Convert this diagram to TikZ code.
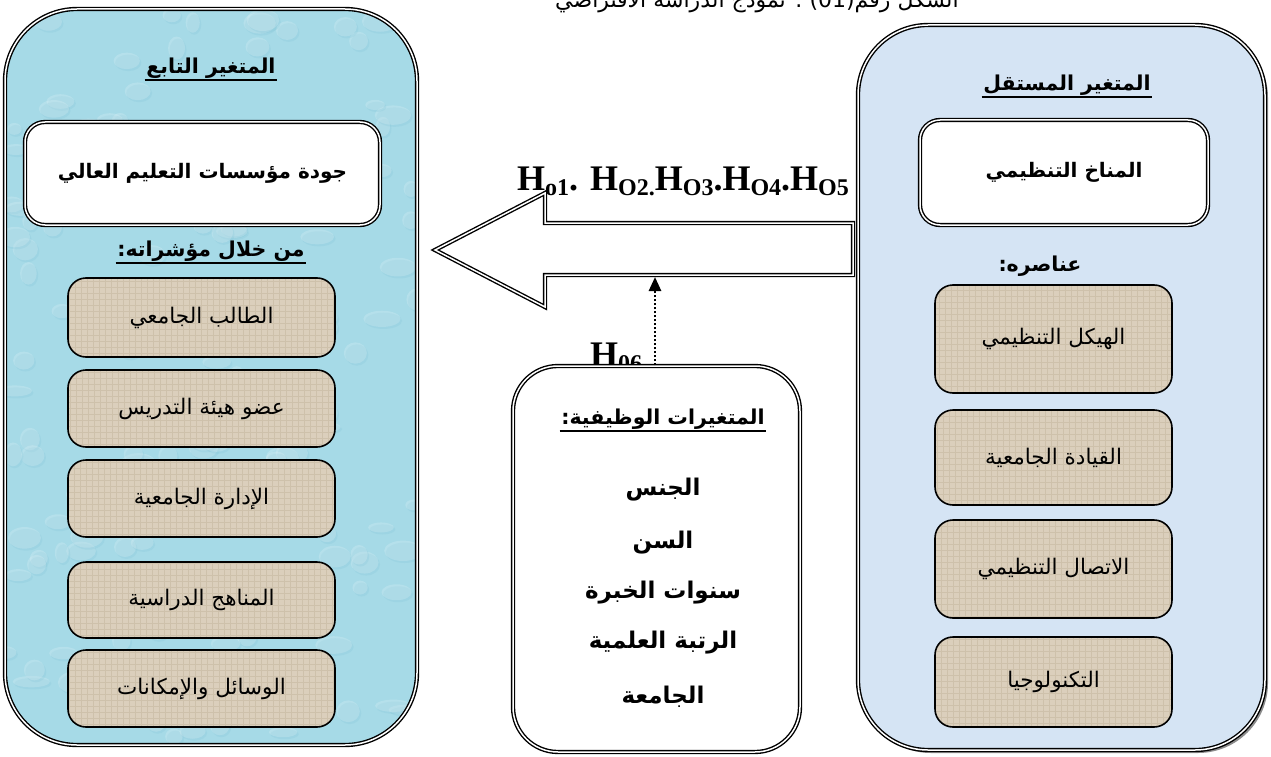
\documentclass[tikz,border=0pt]{standalone}
\usepackage{fontspec}
\setmainfont{Liberation Serif}
\newfontfamily\arfont[Script=Arabic]{DejaVu Sans}
\TeXXeTstate=1
\usetikzlibrary{arrows.meta,shadows}

\newcommand{\rtl}[1]{\beginR #1\endR}
\newcommand{\hsub}[1]{\raisebox{-5pt}{\fontsize{24}{24}\selectfont #1}}

\definecolor{dropblue}{RGB}{166,218,231}
\definecolor{dropdark}{RGB}{120,190,210}
\definecolor{paleblue}{RGB}{213,228,244}
\definecolor{tanfill}{RGB}{219,207,188}
\definecolor{tangrid}{RGB}{196,182,158}

\begin{document}
\begin{tikzpicture}[x=1pt,y=-1pt,
  outerbox/.style={draw, line width=1.4pt, double=white, double distance=1.5pt},
  whitebox/.style={outerbox, fill=white, rounded corners=20pt, inner sep=0pt},
  tanbox/.style={draw, line width=1.6pt, fill=tanfill, rounded corners=18pt,
    inner sep=0pt, font=\arfont\fontsize{21.5}{24}\selectfont,
    path picture={\draw[tangrid, line width=0.4pt, opacity=0.55]
      (path picture bounding box.south west) grid[step=6pt]
      (path picture bounding box.north east);}},
  headtxt/.style={font=\arfont\bfseries\fontsize{20.5}{25}\selectfont, inner sep=1.5pt},
  jobtxt/.style={font=\arfont\bfseries\fontsize{23}{26}\selectfont, inner sep=1pt},
  boxtxt/.style={font=\arfont\bfseries\fontsize{20}{24}\selectfont},
  uline/.style={line width=1.2pt},
  htxt/.style={font=\bfseries\fontsize{36}{40}\selectfont, inner sep=0pt}
]
\useasboundingbox (0,0) rectangle (1271,757);

% title line, running off the top edge
\node[font=\arfont\fontsize{22}{26}\selectfont, anchor=base] (title) at (757,8)
  {\rtl{الشكل رقم(01) : نموذج الدراسة الافتراضي}};

% dependent variable panel with water-drop texture
% (path picture coordinates are relative to the node centre)
\node[outerbox, fill=dropblue, rounded corners=72pt, minimum width=412pt,
  minimum height=736pt, inner sep=0pt,
  path picture={
    \pgfmathsetseed{11}
    \foreach \k in {1,...,170}{
      \pgfmathsetmacro{\px}{-206+412*rnd}
      \pgfmathsetmacro{\py}{-368+736*rnd}
      \pgfmathsetmacro{\rx}{7+12*rnd}
      \pgfmathsetmacro{\ry}{5+7*rnd}
      \pgfmathsetmacro{\ang}{-40+80*rnd}
      \fill[dropdark, opacity=0.18, rotate around={\ang:(\px,\py)}]
        (\px+1.5,\py+2) ellipse [x radius=\rx, y radius=\ry];
      \fill[white, opacity=0.17, rotate around={\ang:(\px,\py)}]
        (\px,\py) ellipse [x radius=\rx, y radius=\ry];
    }}] (dep) at (211,377) {};

% independent variable panel
\node[outerbox, fill=paleblue, rounded corners=70pt, minimum width=407pt,
  minimum height=725pt, inner sep=0pt,
  drop shadow={shadow xshift=3pt, shadow yshift=-3pt, fill=black!45, opacity=1}]
  (ind) at (1061.5,387.5) {};

% headings of the two panels
\node[headtxt] (hdep) at (211,68) {\rtl{المتغير التابع}};
\draw[uline] (hdep.south west) -- (hdep.south east);
\node[headtxt] (hind) at (1067,85) {\rtl{المتغير المستقل}};
\draw[uline] (hind.south west) -- (hind.south east);

% main concept boxes
\node[whitebox, boxtxt, minimum width=355pt, minimum height=103pt] (quality)
  at (202.5,173.5) {\rtl{جودة مؤسسات التعليم العالي}};
\node[whitebox, boxtxt, minimum width=288pt, minimum height=105pt] (climate)
  at (1064,172.5) {\rtl{المناخ التنظيمي}};

% sub headings
\node[headtxt] (hind2) at (211,251) {\rtl{من خلال مؤشراته:}};
\draw[uline] (hind2.south west) -- (hind2.south east);
\node[headtxt] (helem) at (1040,266) {\rtl{عناصره:}};

% indicators of quality
\node[tanbox, minimum width=267pt, minimum height=79pt] (i1) at (201.5,317.5) {\rtl{الطالب الجامعي}};
\node[tanbox, minimum width=267pt, minimum height=77pt] (i2) at (201.5,408.5) {\rtl{عضو هيئة التدريس}};
\node[tanbox, minimum width=267pt, minimum height=77pt] (i3) at (201.5,498.5) {\rtl{الإدارة الجامعية}};
\node[tanbox, minimum width=267pt, minimum height=76pt] (i4) at (201.5,600) {\rtl{المناهج الدراسية}};
\node[tanbox, minimum width=267pt, minimum height=77pt] (i5) at (201.5,688.5) {\rtl{الوسائل  والإمكانات}};

% elements of the organisational climate
\node[tanbox, minimum width=237pt, minimum height=108pt] (e1) at (1053.5,339) {\rtl{الهيكل التنظيمي}};
\node[tanbox, minimum width=237pt, minimum height=95pt] (e2) at (1053.5,457.5) {\rtl{القيادة الجامعية}};
\node[tanbox, minimum width=237pt, minimum height=98pt] (e3) at (1053.5,569) {\rtl{الاتصال التنظيمي}};
\node[tanbox, minimum width=237pt, minimum height=90pt] (e4) at (1053.5,682) {\rtl{التكنولوجيا}};

% hollow block arrow from the independent to the dependent variable
\coordinate (tip) at (435,250);
\coordinate (shaftend) at (853,249);
\coordinate (shaftbot) at (655,277);
\draw[outerbox, fill=white, line join=miter]
  (tip) -- (545,193) -- (545,223) -- (shaftend |- 0,223) -- (shaftend |- 0,275)
  -- (545,275) -- (545,307) -- cycle;

% hypotheses labels (the last one partly hidden by the box below it)
\node[htxt, anchor=base west] (hmain) at (517,190)
  {H\hsub{o1}. H\hsub{O2.}H\hsub{O3}.H\hsub{O4}.H\hsub{O5}};
\node[htxt, anchor=base west] (h6) at (590,366) {H\hsub{06}};

% job variables box
\node[outerbox, fill=white, rounded corners=45pt, minimum width=287pt,
  minimum height=386pt, inner sep=0pt] (job) at (656.5,559) {};
\node[headtxt] (hjob) at (663,419) {\rtl{المتغيرات الوظيفية:}};
\draw[uline] (hjob.south west) -- (hjob.south east);
\node[jobtxt] (j1) at (663,490) {\rtl{الجنس}};
\node[jobtxt] (j2) at (663,543) {\rtl{السن}};
\node[jobtxt] (j3) at (663,593) {\rtl{سنوات الخبرة}};
\node[jobtxt] (j4) at (663,643) {\rtl{الرتبة العلمية}};
\node[jobtxt] (j5) at (663,697) {\rtl{الجامعة}};

% moderating effect (dotted arrow)
\draw[line width=2.6pt, dash pattern=on 2pt off 2pt,
  -{Triangle[length=14pt,width=12pt]}] (job.north -| shaftbot) -- (shaftbot);
\end{tikzpicture}
\end{document}
